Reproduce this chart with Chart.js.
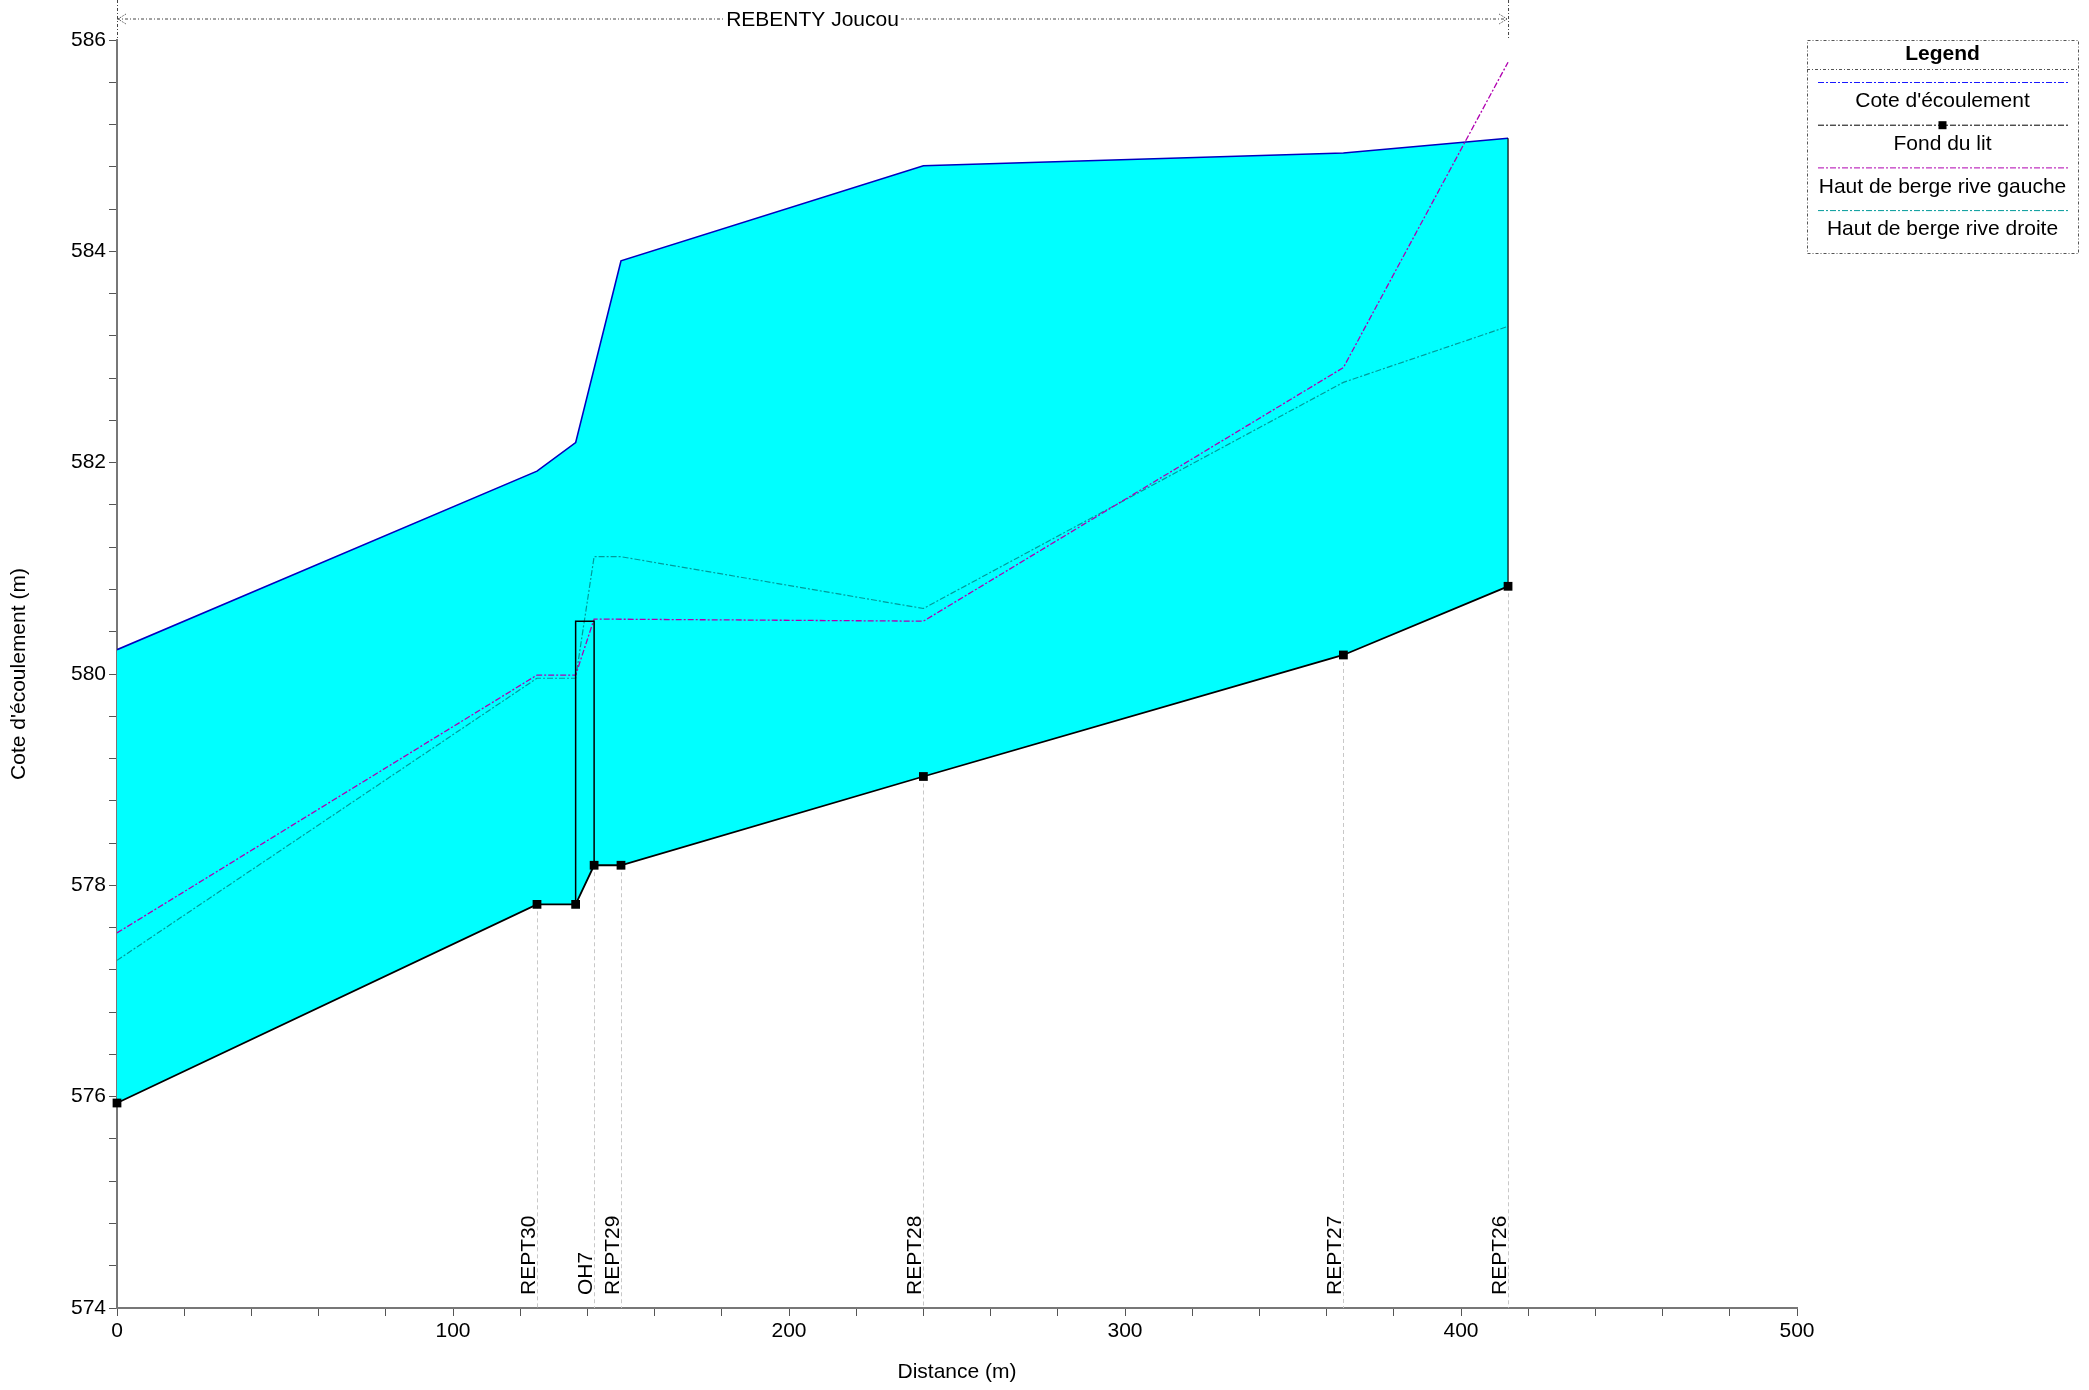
<!DOCTYPE html>
<html>
<head>
<meta charset="utf-8">
<script src="https://cdn.jsdelivr.net/npm/chart.js@4.4.1/dist/chart.umd.min.js"></script>
<style>
  html, body { margin: 0; padding: 0; background: #fff; }
</style>
</head>
<body>
<canvas id="profil" width="2089" height="1390"></canvas>
<script>
const FONT = 'Liberation Sans, Arial, sans-serif';

// profil en long - bief REBENTY Joucou
const reachName = 'REBENTY Joucou';
const reachStart = 0;
const reachEnd = 414;

const bedDist = [0, 125, 136.5, 142, 150, 240, 365, 414];
const bedLevel = [575.94, 577.82, 577.82, 578.19, 578.19, 579.03, 580.18, 580.83];

const waterDist = [0, 125, 136.5, 150, 240, 365, 414];
const waterLevel = [580.23, 581.92, 582.19, 583.91, 584.81, 584.93, 585.07];

const leftBankDist = [0, 125, 136.5, 142, 240, 365, 414];
const leftBankLevel = [577.55, 579.99, 579.99, 580.52, 580.50, 582.90, 585.79];

const rightBankDist = [0, 125, 136.5, 142, 150, 240, 365, 414];
const rightBankLevel = [577.29, 579.96, 579.96, 581.11, 581.11, 580.62, 582.76, 583.29];

// ouvrage OH7
const structDist = [136.5, 136.5, 142, 142];
const structLevel = [577.82, 580.50, 580.50, 578.19];

const sectionNames = ['REPT30', 'OH7', 'REPT29', 'REPT28', 'REPT27', 'REPT26'];
const sectionDist = [125, 142, 150, 240, 365, 414];

const legendLabels = ["Cote d'écoulement", 'Fond du lit', 'Haut de berge rive gauche', 'Haut de berge rive droite'];
const legendColors = ['#1a1aff', '#000000', '#b000b0', '#009a9a'];

const pts = (xs, ys) => xs.map((d, i) => ({x: d, y: ys[i]}));
const DASHDOT = [6, 2, 2, 2];

const profilDecor = {
  id: 'profilDecor',
  beforeDatasetsDraw(chart) {
    const {ctx, scales: {x, y}} = chart;
    ctx.save();
    ctx.strokeStyle = '#c8c8c8';
    ctx.lineWidth = 1;
    ctx.setLineDash([4, 3]);
    sectionDist.forEach(d => {
      const i = bedDist.indexOf(d);
      const px = Math.round(x.getPixelForValue(d)) + 0.5;
      ctx.beginPath();
      ctx.moveTo(px, y.getPixelForValue(bedLevel[i]));
      ctx.lineTo(px, y.getPixelForValue(y.min));
      ctx.stroke();
    });
    ctx.restore();
  },
  afterDraw(chart) {
    const {ctx, scales: {x, y}, chartArea} = chart;
    ctx.save();

    // noms des sections
    ctx.fillStyle = '#000';
    ctx.font = '21px ' + FONT;
    ctx.textAlign = 'left';
    ctx.textBaseline = 'alphabetic';
    sectionNames.forEach((name, i) => {
      const px = x.getPixelForValue(sectionDist[i]);
      ctx.save();
      ctx.translate(px - 2, chartArea.bottom - 13);
      ctx.rotate(-Math.PI / 2);
      ctx.fillText(name, 0, 0);
      ctx.restore();
    });

    // nom du bief en haut
    const x0 = x.getPixelForValue(reachStart);
    const x1 = x.getPixelForValue(reachEnd);
    const yl = 19;
    ctx.strokeStyle = '#444';
    ctx.lineWidth = 1;
    ctx.setLineDash([3, 2, 1, 2]);
    ctx.beginPath();
    ctx.moveTo(x0, yl); ctx.lineTo(x1, yl);
    ctx.moveTo(x0 + 0.5, 0); ctx.lineTo(x0 + 0.5, chartArea.top);
    ctx.moveTo(x1 + 0.5, 0); ctx.lineTo(x1 + 0.5, chartArea.top - 2);
    ctx.stroke();
    ctx.setLineDash([1, 1]);
    ctx.beginPath();
    ctx.moveTo(x0 + 9, yl - 5); ctx.lineTo(x0 + 1, yl); ctx.lineTo(x0 + 9, yl + 5);
    ctx.moveTo(x1 - 9, yl - 5); ctx.lineTo(x1 - 1, yl); ctx.lineTo(x1 - 9, yl + 5);
    ctx.stroke();
    ctx.setLineDash([]);
    ctx.font = '21px ' + FONT;
    const tw = ctx.measureText(reachName).width;
    const xm = (x0 + x1) / 2;
    ctx.fillStyle = '#fff';
    ctx.fillRect(xm - tw / 2 - 2, yl - 12, tw + 4, 24);
    ctx.fillStyle = '#000';
    ctx.textAlign = 'center';
    ctx.textBaseline = 'middle';
    ctx.fillText(reachName, xm, yl + 1);

    // legende
    const bx = chartArea.right + 10, by = chartArea.top, bw = 271, bh = 213;
    ctx.strokeStyle = '#555';
    ctx.lineWidth = 1;
    ctx.setLineDash([3, 2, 1, 2]);
    ctx.strokeRect(bx + 0.5, by + 0.5, bw, bh);
    ctx.beginPath();
    ctx.moveTo(bx, by + 29.5); ctx.lineTo(bx + bw, by + 29.5);
    ctx.stroke();
    ctx.setLineDash([]);
    ctx.font = 'bold 21px ' + FONT;
    ctx.fillStyle = '#000';
    ctx.fillText('Legend', bx + bw / 2, by + 14);
    ctx.font = '21px ' + FONT;
    legendLabels.forEach((lab, i) => {
      const ly = by + 42.5 + i * 42.7;
      ctx.strokeStyle = legendColors[i];
      ctx.setLineDash(DASHDOT);
      ctx.beginPath();
      ctx.moveTo(bx + 11, ly); ctx.lineTo(bx + 263, ly);
      ctx.stroke();
      ctx.setLineDash([]);
      if (i === 1) {
        ctx.fillStyle = '#000';
        ctx.fillRect(bx + bw / 2 - 4, ly - 4, 8, 8);
      }
      ctx.fillStyle = '#000';
      ctx.fillText(lab, bx + bw / 2, ly + 19);
    });
    ctx.restore();
  }
};

const tickFont = {family: FONT, size: 21};

new Chart(document.getElementById('profil'), {
  type: 'line',
  data: {
    datasets: [
      {
        label: "Cote d'écoulement",
        data: pts(waterDist, waterLevel),
        borderColor: '#0000c0',
        borderWidth: 1.6,
        backgroundColor: '#00ffff',
        fill: 1,
        pointRadius: 0,
        order: 5
      },
      {
        label: 'Fond du lit',
        data: pts(bedDist, bedLevel),
        borderColor: '#000',
        borderWidth: 1.8,
        pointStyle: 'rect',
        pointRadius: 6.2,
        pointBackgroundColor: '#000',
        pointBorderWidth: 0,
        clip: false,
        fill: false,
        order: 0
      },
      {
        label: 'Haut de berge rive gauche',
        data: pts(leftBankDist, leftBankLevel),
        borderColor: legendColors[2],
        borderWidth: 1.3,
        borderDash: DASHDOT,
        pointRadius: 0,
        fill: false,
        order: 3
      },
      {
        label: 'Haut de berge rive droite',
        data: pts(rightBankDist, rightBankLevel),
        borderColor: legendColors[3],
        borderWidth: 1.2,
        borderDash: DASHDOT,
        pointRadius: 0,
        fill: false,
        order: 4
      },
      {
        label: 'OH7',
        data: pts(structDist, structLevel),
        borderColor: '#000',
        borderWidth: 1.5,
        pointRadius: 0,
        fill: false,
        order: 1
      },
      {
        label: 'limite',
        data: [
          {x: reachEnd, y: waterLevel[waterLevel.length - 1]},
          {x: reachEnd, y: bedLevel[bedLevel.length - 1]}
        ],
        borderColor: '#000',
        borderWidth: 1.2,
        pointRadius: 0,
        fill: false,
        order: 1
      }
    ]
  },
  options: {
    responsive: false,
    animation: false,
    layout: {padding: {top: 40, right: 292, bottom: 0, left: 0}},
    plugins: {
      legend: {display: false},
      tooltip: {enabled: false}
    },
    scales: {
      x: {
        type: 'linear',
        min: 0,
        max: 500,
        ticks: {
          stepSize: 20,
          autoSkip: false,
          maxRotation: 0,
          color: '#000',
          font: tickFont,
          padding: 3,
          callback: v => (v % 100 === 0 ? v : '')
        },
        grid: {display: true, drawOnChartArea: false, drawTicks: true, tickLength: 8, color: '#555'},
        border: {display: true, color: '#777', width: 2},
        title: {display: true, text: 'Distance (m)', color: '#000', font: tickFont, padding: {top: 4, bottom: 5}},
        afterFit(s) { s.height = 82; }
      },
      y: {
        type: 'linear',
        min: 574,
        max: 586,
        ticks: {
          stepSize: 0.4,
          autoSkip: false,
          color: '#000',
          font: tickFont,
          padding: 3,
          callback: v => {
            const r = Math.round(v * 10) / 10;
            return Math.abs(r / 2 - Math.round(r / 2)) < 1e-6 ? r : '';
          }
        },
        grid: {display: true, drawOnChartArea: false, drawTicks: true, tickLength: 8, color: '#555'},
        border: {display: true, color: '#777', width: 2},
        title: {display: true, text: "Cote d'écoulement (m)", color: '#000', font: tickFont, padding: {top: 7, bottom: 4}},
        afterFit(s) { s.width = 117; }
      }
    }
  },
  plugins: [profilDecor]
});
</script>
</body>
</html>
